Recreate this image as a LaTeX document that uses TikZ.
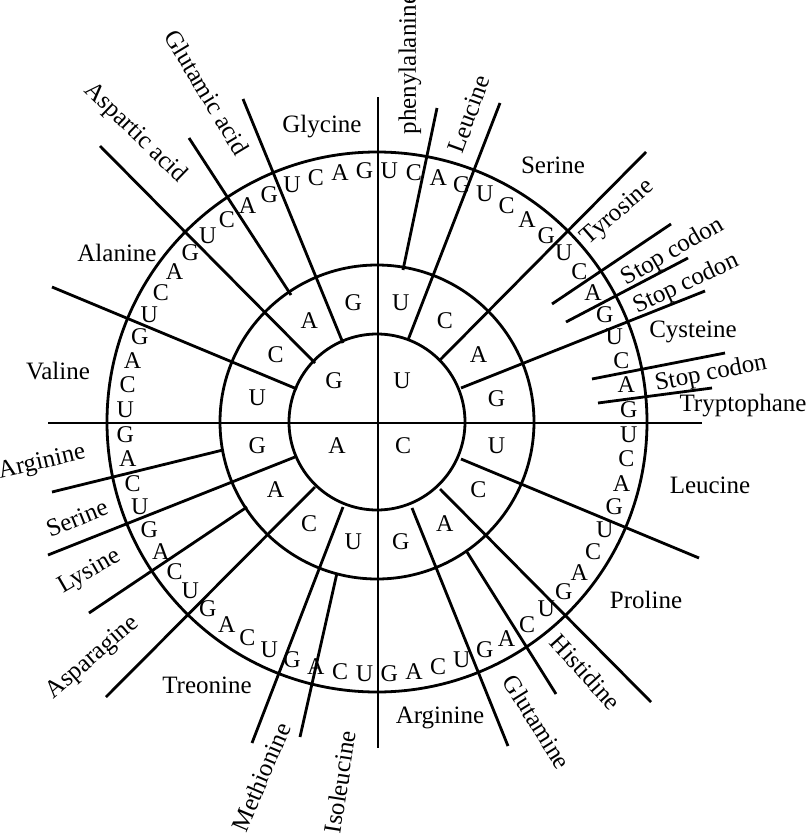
\documentclass[tikz,border=0pt]{standalone}
\usepackage{fontspec}
\setmainfont{Liberation Serif}
\tikzset{
  base/.style = {font=\fontsize{12}{12}\selectfont, inner sep=0pt},
  amino/.style = {font=\fontsize{12.5}{13}\selectfont, inner sep=0pt}
}
\begin{document}
\begin{tikzpicture}[x=0.5pt, y=-0.5pt, line width=1.4pt]
	\useasboundingbox (0, 0) rectangle (809, 835);
	\coordinate (O) at (377, 422);
	\draw (O) circle[radius = 44pt];
	\draw (O) circle[radius = 78.5pt];
	\draw (O) circle[radius = 135pt];
	\draw (378, 97) -- (378, 748);
	\draw (48, 423) -- (702, 423);
	% lines between the groups
	\foreach \xa/\ya/\xb/\yb in {403/270/437/108, 408/340/500/103, 440/360/646/152, 552/304/671/224,
			566/322/688/258, 461/388/705/291, 592/379/725/353, 598/403/712/388,
			461/459/699/558, 440/489/651/702, 467/552/556/694, 412/508/508/746,
			223/450/52/492, 295/457/48/555, 247/507/89/613, 315/487/106/697,
			343/507/252/743, 337/573/300/737,
			297/389/52/287, 315/363/100/146, 291/295/189/138, 343/343/243/99}
		\draw (\xa, \ya) -- (\xb, \yb);
	% letters
	\node[base] at (402, 381) {U};
	\node[base] at (403, 446) {C};
	\node[base] at (337, 446) {A};
	\node[base] at (334, 381) {G};
	\foreach \a in {0, ..., 3}
		\foreach \b/\L in {0/U, 1/C, 2/A, 3/G}
			\node[base] at ([shift = {({90 - (4*\a + \b + 0.5)*22.5}:61pt)}] O) {\L};
	\foreach \a in {0, ..., 15}
		\foreach \b/\L in {0/U, 1/C, 2/A, 3/G}
			\node[base] at ([shift = {({90 - (4*\a + \b + 0.5)*5.625}:126pt)}] O) {\L};
	% amino acids
	\node[amino, rotate = 90] at (410, 64) {phenylalanine};
	\node[amino, rotate = 70] at (469, 114) {Leucine};
	\node[amino] at (553, 165) {Serine};
	\node[amino, rotate = 41] at (618, 213) {Tyrosine};
	\node[amino, rotate = 30] at (673, 252) {Stop codon};
	\node[amino, rotate = 25] at (686, 284) {Stop codon};
	\node[amino] at (693, 332) {Cysteine};
	\node[amino, rotate = 11] at (711, 374) {Stop codon};
	\node[amino] at (743, 406) {Tryptophane};
	\node[amino] at (710, 485) {Leucine};
	\node[amino] at (646, 600) {Proline};
	\node[amino, rotate = -48] at (586, 672) {Histidine};
	\node[amino, rotate = -58] at (537, 722) {Glutamine};
	\node[amino] at (440, 718) {Arginine};
	\node[amino, rotate = 81] at (340, 782) {Isoleucine};
	\node[amino, rotate = 67] at (261, 777) {Methionine};
	\node[amino] at (207, 685) {Treonine};
	\node[amino, rotate = 41] at (93, 658) {Asparagine};
	\node[amino, rotate = 30] at (90, 572) {Lysine};
	\node[amino, rotate = 22] at (77, 518) {Serine};
	\node[amino, rotate = 13] at (42, 463) {Arginine};
	\node[amino] at (58, 371) {Valine};
	\node[amino] at (117, 253) {Alanine};
	\node[amino, rotate = -44] at (135, 133) {Aspartic acid};
	\node[amino, rotate = -59] at (207, 92) {Glutamic acid};
	\node[amino] at (322, 127) {Glycine};
\end{tikzpicture}
\end{document}
